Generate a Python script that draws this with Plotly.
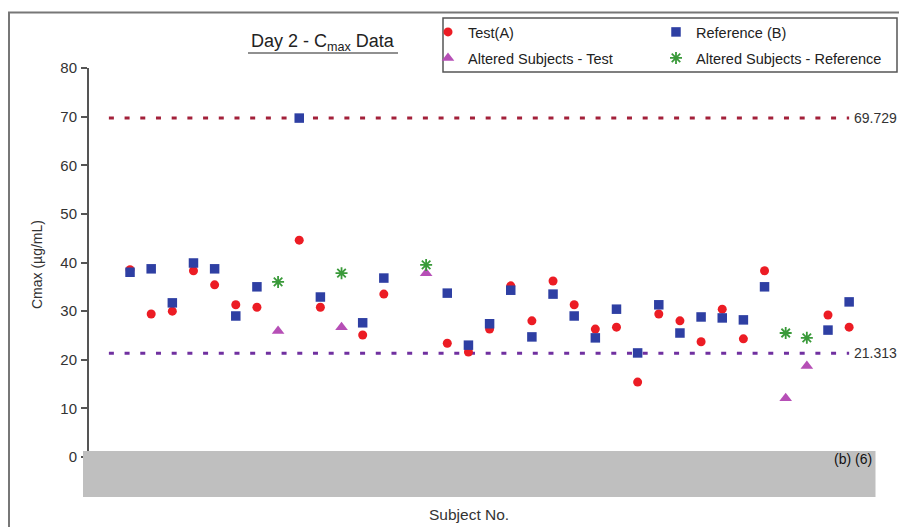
import plotly.graph_objects as go

# ---------------- data ----------------
subjects = [1, 2, 3, 4, 5, 6, 7, 9, 10, 12, 13, 16, 17, 18, 19, 20, 21, 22, 23, 24,
            25, 26, 27, 28, 29, 30, 31, 34, 35]
test_a = [38.5, 29.4, 30.0, 38.3, 35.4, 31.3, 30.8, 44.6, 30.8, 25.1, 33.5, 23.4, 21.6,
          26.3, 35.2, 28.0, 36.2, 31.3, 26.3, 26.7, 15.4, 29.4, 28.0, 23.7, 30.4, 24.3,
          38.3, 29.2, 26.7]
ref_b = [38.0, 38.7, 31.7, 39.9, 38.7, 29.0, 35.0, 69.7, 32.9, 27.6, 36.8, 33.7, 23.0,
         27.4, 34.3, 24.7, 33.5, 29.0, 24.5, 30.4, 21.4, 31.3, 25.5, 28.8, 28.6, 28.2,
         35.0, 26.1, 31.9]
altered_subjects = [8, 11, 15, 32, 33]
altered_test = [25.9, 26.7, 37.8, 12.1, 18.7]
altered_ref = [36.0, 37.8, 39.5, 25.5, 24.5]
limit_x = [0, 35]
upper_limit = 69.729
lower_limit = 21.313
y_ticks = [0, 10, 20, 30, 40, 50, 60, 70, 80]

# ---------------- layout geometry (pixels) ----------------
W, H = 899, 527
L, R, T, B = 89, 23, 68, 70
PW, PH = W - L - R, H - T - B


def px(xp):
    return (xp - L) / PW


def py(yp):
    return (H - B - yp) / PH


FONT = "Liberation Sans, Arial, sans-serif"
fig = go.Figure()

fig.add_trace(go.Scatter(x=limit_x, y=[upper_limit] * 2, mode="lines",
                         line=dict(color="#a3213a", width=3, dash="5px,10.7px"),
                         showlegend=False, hoverinfo="skip"))
fig.add_trace(go.Scatter(x=limit_x, y=[lower_limit] * 2, mode="lines",
                         line=dict(color="#7030a0", width=3, dash="5px,10.7px"),
                         showlegend=False, hoverinfo="skip"))

fig.add_trace(go.Scatter(x=subjects, y=test_a, mode="markers", name="Test(A)",
                         marker=dict(symbol="circle", size=9, color="#ec1c24"),
                         legend="legend"))
fig.add_trace(go.Scatter(x=subjects, y=ref_b, mode="markers", name="Reference (B)",
                         marker=dict(symbol="square", size=9.5, color="#2e3fa3"),
                         legend="legend2"))
fig.add_trace(go.Scatter(x=altered_subjects, y=altered_test, mode="markers",
                         name="Altered Subjects - Test",
                         marker=dict(symbol="triangle-up", size=11, color="#b64fb6"),
                         legend="legend3"))
fig.add_trace(go.Scatter(x=altered_subjects, y=altered_ref, mode="markers",
                         name="Altered Subjects - Reference",
                         marker=dict(symbol="asterisk-open", size=10, color="#3a9a3a",
                                     line=dict(color="#3a9a3a", width=1.8)),
                         legend="legend4"))

leg_font = dict(family=FONT, size=14.5, color="#222222")


def leg(xp, yp):
    return dict(x=px(xp), y=py(yp), xanchor="left", yanchor="middle",
                bgcolor="rgba(0,0,0,0)", borderwidth=0, font=leg_font,
                itemwidth=30)


annotations = [
    dict(text="Day 2 - C<sub>max</sub> Data", x=px(323), y=py(42), xref="paper",
         yref="paper", showarrow=False, xanchor="center", yanchor="middle",
         font=dict(family=FONT, size=18, color="#222222")),
    dict(text="Cmax (µg/mL)", x=px(37), y=py(265), xref="paper", yref="paper",
         showarrow=False, textangle=-90, xanchor="center", yanchor="middle",
         font=dict(family=FONT, size=14, color="#333333")),
    dict(text="Subject No.", x=px(469), y=py(514), xref="paper", yref="paper",
         showarrow=False, xanchor="center", yanchor="middle",
         font=dict(family=FONT, size=15.5, color="#333333")),
    dict(text="(b) (6)", x=px(874), y=py(459), xref="paper", yref="paper",
         showarrow=False, xanchor="right", yanchor="middle",
         font=dict(family=FONT, size=14, color="#111111")),
    dict(text=f"{upper_limit:g}", x=limit_x[1], y=upper_limit, xref="x", yref="y",
         showarrow=False, xanchor="left", yanchor="middle", xshift=3,
         font=dict(family=FONT, size=14, color="#333333")),
    dict(text=f"{lower_limit:g}", x=limit_x[1], y=lower_limit, xref="x", yref="y",
         showarrow=False, xanchor="left", yanchor="middle", xshift=3,
         font=dict(family=FONT, size=14, color="#333333")),
]

shapes = [
    # outer chart frame
    dict(type="rect", xref="paper", yref="paper", x0=px(9), x1=px(920),
         y0=py(560), y1=py(12.5), line=dict(color="#777777", width=2), layer="above"),
    # legend frame
    dict(type="rect", xref="paper", yref="paper", x0=px(443), x1=px(897),
         y0=py(72), y1=py(18), line=dict(color="#555555", width=1.5),
         fillcolor="rgba(0,0,0,0)", layer="above"),
    # title underline
    dict(type="line", xref="paper", yref="paper", x0=px(248), x1=px(398),
         y0=py(53), y1=py(53), line=dict(color="#222222", width=1.2), layer="above"),
    # redaction bar
    dict(type="rect", xref="paper", yref="paper", x0=px(83), x1=px(875.5),
         y0=py(497), y1=py(451), line=dict(width=0), fillcolor="#bfbfbf",
         layer="above"),
]

fig.update_layout(
    width=W, height=H,
    margin=dict(l=L, r=R, t=T, b=B, pad=0),
    paper_bgcolor="white", plot_bgcolor="white",
    showlegend=True,
    legend=leg(428, 32),
    legend2=leg(656, 32),
    legend3=leg(428, 58),
    legend4=leg(656, 58),
    annotations=annotations,
    shapes=shapes,
    xaxis=dict(range=[-0.94, 36.27], showline=False, showgrid=False, zeroline=False,
               showticklabels=False, ticks=""),
    yaxis=dict(range=[0, 80], tickvals=y_ticks, showgrid=False, zeroline=False,
               showline=True, linecolor="#555555", linewidth=2, ticks="outside",
               ticklen=6, tickwidth=1.5, tickcolor="#555555",
               tickfont=dict(family=FONT, size=15, color="#333333"),
               ticklabelstandoff=1),
)

fig.write_html("out.html")
